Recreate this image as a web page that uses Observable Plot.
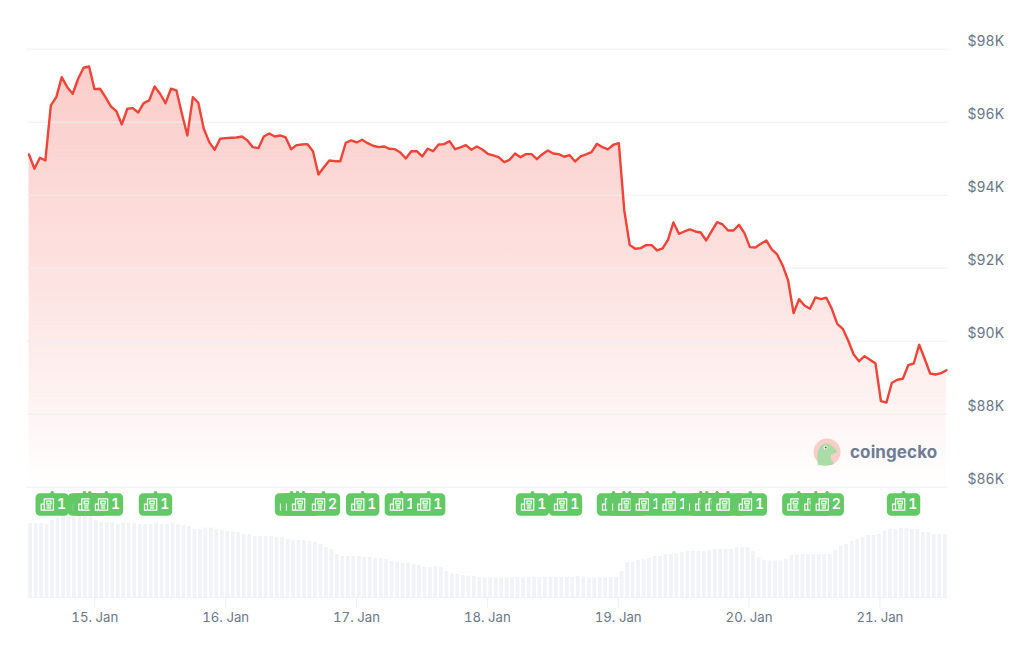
<!DOCTYPE html>
<html>
<head>
<meta charset="utf-8">
<script src="https://cdn.jsdelivr.net/npm/d3@7"></script>
<script src="https://cdn.jsdelivr.net/npm/@observablehq/plot@0.6"></script>
<style>
html,body{margin:0;padding:0;background:#fff;}
#wrap{position:relative;width:1024px;height:645px;overflow:hidden;font-family:Inter,sans-serif;}
#wrap svg{display:block;}
#logo{position:absolute;left:813px;top:438px;display:flex;align-items:center;height:28px;}
#logo span{margin-left:9px;font:700 17px Inter,sans-serif;color:#6f7d92;letter-spacing:.1px;}
</style>
</head>
<body>
<div id="wrap">
<div id="top"></div>
<div id="bottom"></div>
<div id="logo">
<svg width="28" height="28" viewBox="0 0 28 28"><circle cx="14" cy="14" r="13.5" fill="#f9cdc8"/><path d="M5 27 C4 20 4 13 7 9 C10 5 16 5 18 7 C20 9 23 11 24 14 C21 16 18 16 17.5 18 C17 21 20 24 21 26 C16 28 9 28 5 27Z" fill="#a9dca6"/><circle cx="12.5" cy="9.5" r="2" fill="#fff"/><circle cx="12.7" cy="9.5" r="1" fill="#4a5a50"/></svg>
<span>coingecko</span>
</div>
</div>
<script>
const priceStart = Date.UTC(2026, 0, 14, 11, 56);
const priceStepMinutes = 60.1;
const prices = [
95116,94724,95026,94952,96459,96686,97234,96960,96779,97190,
97492,97527,96905,96916,96686,96431,96302,95938,96368,96385,
96267,96522,96596,96979,96779,96522,96916,96870,96231,95637,
96686,96533,95820,95453,95245,95546,95563,95574,95582,95609,
95500,95316,95289,95609,95691,95609,95637,95582,95261,95371,
95390,95398,95206,94568,94768,94952,94932,94932,95437,95500,
95445,95519,95426,95354,95316,95335,95272,95261,95171,95006,
95206,95206,95061,95272,95206,95390,95398,95480,95261,95308,
95371,95245,95335,95253,95135,95089,95042,94905,94971,95143,
95042,95124,95124,94987,95124,95226,95143,95124,95053,95097,
94924,95061,95116,95179,95409,95316,95253,95382,95426,93582,
92636,92532,92549,92631,92631,92486,92540,92779,93253,92943,
93006,93061,93006,92979,92760,93014,93261,93198,93034,93034,
93190,92960,92576,92568,92669,92760,92513,92376,92075,91664,
90768,91151,90979,90888,91198,91151,91190,90888,90477,90340,
90020,89636,89452,89589,89491,89389,88356,88321,88861,88943,
88970,89343,89389,89902,89518,89115,89088,89124,89206
];
const volumes = [
74,74,74,73,77,79,82,84,84,84,
84,84,77,75,75,75,73,74.5,74.5,74.5,
73,73,73,74.5,73,73,74.5,73,72,71,
68,68,69.5,69.5,68,67,66,65.5,65,63,
63,61,61,61,61,60,60,58,57,57,
57,56,55,53,50,48,43,41,41,41,
41,40,40,39,39,38,36,35,34,34,
33,32,30,30,31,30,26,24,23,22,
21.5,21,20,19.5,19.5,19.5,19.5,19.5,19.5,20,
19.5,20,20,20,20,20,20,20,20,20,
21,20.5,19.5,19.5,20,20,20,20,26,35,
35,37,38,39,41,41,43,43,44,45,
46,46,46,46,47,48,48,48,48,50,
50,50,46,40,37,36.5,36.5,36.5,38,42,
42.5,43,43,43,43,43,43,47,51,53,
56,58,60,62,62,63,66,68,68,69,
69,68,68,65,65,63,63,63
];
const priceTicks = [86000, 88000, 90000, 92000, 94000, 96000, 98000];
const dayTicks = [15, 16, 17, 18, 19, 20, 21];
// News flags: hours after the series start, and article counts
const newsHours = [4.26,10.18,11.15,14.2,23.2,48.15,49.25,50.35,54.0,61.2,68.3,73.3,92.35,98.4,107.2,109.1,110.2,113.4,118.3,123.2,124.3,126.2,128.2,132.3,141.2,144.3,146.4,160.4];
const newsCounts = [1,1,1,1,1,1,1,1,2,1,1,1,1,1,1,1,1,1,1,1,1,1,1,1,1,1,2,1];

const minute = 60000, hour = 3600000;
const t0 = new Date(priceStart);
const rows = prices.map((value, i) => ({date: new Date(priceStart + i * priceStepMinutes * minute), value}));
const bars = volumes.map((volume, i) => {
  const c = priceStart + (0.3 + i * 1.0045) * hour;
  return {x1: new Date(c - 0.5 * hour), x2: new Date(c + 0.5 * hour), volume};
});
const xDomain = [t0, rows[rows.length - 1].date];
const xScale = {type: "utc", domain: xDomain};
const days = dayTicks.map(d => new Date(Date.UTC(2026, 0, d)));
const news = newsHours.map((h, i) => ({date: new Date(priceStart + h * hour), count: newsCounts[i]}));

const badgeSymbol = {draw(c) {
  const l = -16.7, r = 16.7, t = -11.3, b = 11.3, q = 4.5;
  c.moveTo(l + q, t);
  c.lineTo(-2.2, t);
  c.lineTo(-0.8, t - 2.2);
  c.lineTo(0.8, t - 2.2);
  c.lineTo(2.2, t);
  c.lineTo(r - q, t);
  c.arcTo(r, t, r, t + q, q);
  c.lineTo(r, b - q);
  c.arcTo(r, b, r - q, b, q);
  c.lineTo(l + q, b);
  c.arcTo(l, b, l, b - q, q);
  c.lineTo(l, t + q);
  c.arcTo(l, t, l + q, t, q);
  c.closePath();
}};
const iconSymbol = {draw(c) {
  // newspaper outline, offset left of the flag centre
  c.moveTo(-8, -0.5); c.lineTo(-11, -0.5); c.lineTo(-11, 5.6); c.lineTo(1.2, 5.6); c.lineTo(1.2, -5.6); c.lineTo(-8, -5.6); c.lineTo(-8, 5.6);
  c.moveTo(-5.6, -3.4); c.lineTo(-1.2, -3.4); c.lineTo(-1.2, -0.6); c.lineTo(-5.6, -0.6); c.closePath();
  c.moveTo(-5.6, 1.4); c.lineTo(-1.2, 1.4);
  c.moveTo(-5.6, 3.4); c.lineTo(-1.2, 3.4);
}};

const gradient = () => {
  const defs = d3.create("svg:defs");
  const g = defs.append("linearGradient").attr("id", "priceFill").attr("x1", 0).attr("x2", 0).attr("y1", 0).attr("y2", 1);
  g.append("stop").attr("offset", "0%").attr("stop-color", "#ef4438").attr("stop-opacity", 0.27);
  g.append("stop").attr("offset", "55%").attr("stop-color", "#ef4438").attr("stop-opacity", 0.14);
  g.append("stop").attr("offset", "100%").attr("stop-color", "#ef4438").attr("stop-opacity", 0);
  return defs.node();
};

const topPlot = Plot.plot({
  width: 1024, height: 488,
  marginLeft: 28.5, marginRight: 78, marginTop: 0, marginBottom: 0,
  style: {background: "transparent", fontFamily: "Inter, sans-serif"},
  x: {...xScale, axis: null},
  y: {domain: [86000, 98000], range: [486.7, 48.7], axis: null},
  marks: [
    gradient,
    Plot.areaY(rows, {x: "date", y1: 86000, y2: "value", fill: "url(#priceFill)"}),
    Plot.ruleY(priceTicks, {stroke: "#eceef1", strokeWidth: 1, insetLeft: -1.5, insetRight: -1.5}),
    Plot.axisY({
      anchor: "right", ticks: priceTicks, tickSize: 0, tickPadding: 21, dy: -7.5,
      tickFormat: d => `$${d / 1000}K`, label: null, fontSize: 14, fill: "#6b7688", textAnchor: "start"
    }),
    Plot.lineY(rows, {x: "date", y: "value", stroke: "#ef4438", strokeWidth: 2.4, curve: "linear", strokeLinejoin: "round"})
  ]
});
topPlot.style.fontSize = "14px";
document.getElementById("top").append(topPlot);

const flagMarks = news.flatMap(d => [
  Plot.dot([d], {x: "date", frameAnchor: "top", dy: 7, symbol: badgeSymbol, r: 5, fill: "#63c866", stroke: null}),
  Plot.dot([d], {x: "date", frameAnchor: "top", dy: 7, symbol: iconSymbol, r: 5, fill: "none", stroke: "#fff", strokeWidth: 1.25}),
  Plot.text([d], {x: "date", text: "count", frameAnchor: "top", dy: 7, dx: 9.2, fill: "#fff", fontSize: 14, fontWeight: 600, lineAnchor: "middle", textAnchor: "middle"})
]);

const bottomPlot = Plot.plot({
  width: 1024, height: 157,
  marginLeft: 28.5, marginRight: 78, marginTop: 9, marginBottom: 48,
  style: {background: "transparent", fontFamily: "Inter, sans-serif", overflow: "visible"},
  x: xScale,
  y: {domain: [0, 100], range: [109, 9], axis: null},
  marks: [
    Plot.ruleY([0], {stroke: "#f0f2f6", insetLeft: -1, insetRight: -2}),
    Plot.rectY(bars, {x1: "x1", x2: "x2", y: "volume", fill: "#f1f3f7", insetLeft: 0.85, insetRight: 0.85}),
    Plot.axisX({
      ticks: days, tickFormat: d3.utcFormat("%-d. Jan"), tickSize: 11, tickPadding: 4, label: null,
      stroke: "#eceef2", fill: "#6b7688", fontSize: 13.2
    }),
    ...flagMarks
  ]
});
bottomPlot.style.fontSize = "14px";
document.getElementById("bottom").append(bottomPlot);
</script>
</body>
</html>
